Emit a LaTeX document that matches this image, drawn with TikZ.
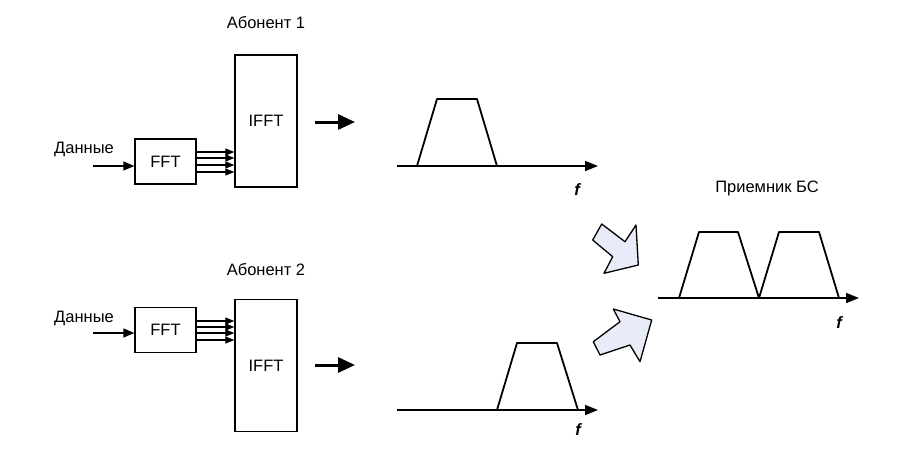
\documentclass[tikz,border=0pt]{standalone}
\usepackage{fontspec}
\setmainfont{Liberation Sans}
\usetikzlibrary{arrows.meta}

\definecolor{bigarrow}{RGB}{232,236,248}

\tikzstyle{fftbox}=[draw, line width=1.3pt, minimum width=61pt, minimum height=45pt, font=\fontsize{16.5}{19}\selectfont]
\tikzstyle{ifftbox}=[draw, line width=1.3pt, minimum width=62pt, minimum height=132pt, font=\fontsize{16.5}{19}\selectfont]
\tikzstyle{lbl}=[font=\fontsize{16.5}{19}\selectfont, inner sep=0pt]
\tikzstyle{din}=[line width=1.3pt, -{Triangle[length=11pt,width=9pt]}]
\tikzstyle{bus}=[line width=1.1pt, -{Triangle[length=9pt,width=7pt]}]
\tikzstyle{outarrow}=[line width=3pt, -{Triangle[length=17pt,width=15pt]}]
\tikzstyle{axis}=[line width=1.8pt, -{Triangle[length=13pt,width=10pt]}]
\tikzstyle{spec}=[line width=1.8pt, line join=round]
\tikzstyle{fat}=[draw, fill=bigarrow, line width=1.3pt, line join=round]

\begin{document}
\begin{tikzpicture}[x=1pt, y=-1pt]
      \useasboundingbox (0,0) rectangle (911,459);

      % abonent 1
      \node[lbl] (ab1) at (266, 23) {Абонент 1};
      \node[ifftbox] (ifft1) at (266, 121) {IFFT};
      \node[fftbox] (fft1) at (165.5, 161.5) {FFT};
      \node[lbl] (data1) at (84, 149) {Данные};
      \coordinate (in1) at (93, 166);
      \draw[din] (in1) -- (in1 -| fft1.west);
      \foreach \dy in {9.5, 3.5, -3.5, -10.5}
        \draw[bus] ([yshift=\dy]fft1.east) -- ([yshift=\dy]fft1.east -| ifft1.west);
      \coordinate (o1a) at (315, 122);
      \coordinate (o1b) at (355, 122);
      \draw[outarrow] (o1a) -- (o1b);

      % abonent 2
      \node[lbl] (ab2) at (266, 270) {Абонент 2};
      \node[ifftbox] (ifft2) at (266, 365.5) {IFFT};
      \node[fftbox] (fft2) at (165.5, 330) {FFT};
      \node[lbl] (data2) at (84, 318) {Данные};
      \coordinate (in2) at (93, 333);
      \draw[din] (in2) -- (in2 -| fft2.west);
      \foreach \dy in {9, 3, -3, -10}
        \draw[bus] ([yshift=\dy]fft2.east) -- ([yshift=\dy]fft2.east -| ifft2.west);
      \coordinate (o2a) at (315, 365);
      \coordinate (o2b) at (355, 365);
      \draw[outarrow] (o2a) -- (o2b);

      % spectra
      \coordinate (ax1a) at (397, 166);
      \coordinate (ax1b) at (598, 166);
      \draw[axis] (ax1a) -- (ax1b);
      \draw[spec] (417, 166) -- (437, 99) -- (477, 99) -- (497, 166);
      \node[lbl] (f1) at (577, 190) {\bfseries\itshape f};

      \coordinate (ax2a) at (397, 410);
      \coordinate (ax2b) at (598, 410);
      \draw[axis] (ax2a) -- (ax2b);
      \draw[spec] (497, 410) -- (517, 343) -- (557, 343) -- (578, 410);
      \node[lbl] (f2) at (578, 430) {\bfseries\itshape f};

      % receiver
      \node[lbl] (rx) at (767, 188) {Приемник БС};
      \coordinate (ax3a) at (658, 298);
      \coordinate (ax3b) at (859, 298);
      \draw[axis] (ax3a) -- (ax3b);
      \draw[spec] (679, 298) -- (699, 232) -- (738, 232) -- (759, 298)
                  -- (779, 232) -- (819, 232) -- (839, 298);
      \node[lbl] (f3) at (839, 323) {\bfseries\itshape f};

      % block arrows
      \draw[fat] (601.7, 224) -- (625, 241.7) -- (636, 225) -- (638.3, 265)
                 -- (604, 273.3) -- (612.7, 256.7) -- (592.7, 240) -- cycle;
      \draw[fat] (593.3, 341.7) -- (620, 321.7) -- (613.3, 309) -- (651.7, 320)
                 -- (640, 361.7) -- (630, 345) -- (600, 355) -- cycle;
    \end{tikzpicture}
\end{document}
